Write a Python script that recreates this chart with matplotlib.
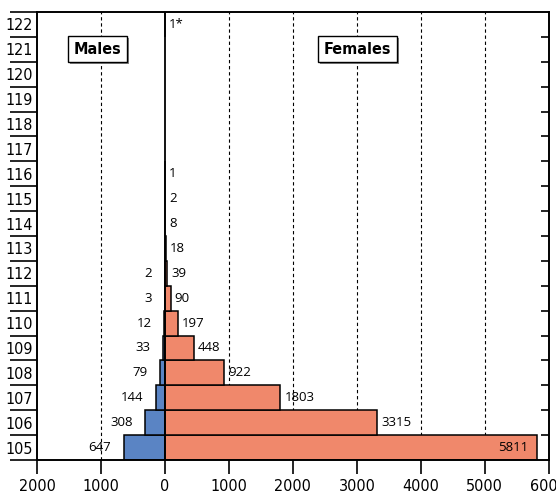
import matplotlib.pyplot as plt
import matplotlib.patheffects as pe
from matplotlib.ticker import FixedLocator, NullFormatter
import numpy as np

# data: ages 105..122
ages = list(range(105, 123))
males = [647, 308, 144, 79, 33, 12, 3, 2, 0, 0, 0, 0, 0, 0, 0, 0, 0, 0]
females = [5811, 3315, 1803, 922, 448, 197, 90, 39, 18, 8, 2, 1, 0, 0, 0, 0, 0, 1]
female_notes = {122: '1*'}
xticks = [-2000, -1000, 0, 1000, 2000, 3000, 4000, 5000, 6000]
xticklabels = ['2000', '1000', '0', '1000', '2000', '3000', '4000', '5000', '6000']

blue = '#5a84c4'
salmon = '#f0886b'
num_font = ['Open Sans', 'DejaVu Sans']

fig = plt.figure(figsize=(5.56, 4.98), dpi=100)
ax = fig.add_axes([0.0665, 0.0763, 0.9205, 0.8997])
cond = dict(family='DejaVu Sans', stretch='condensed')

# dashed grid lines
for g in [-1000, 1000, 2000, 3000, 4000, 5000]:
    ax.axvline(g, color='black', lw=0.8, ls=(0, (3, 2.5)), zorder=0)

for a, m, f in zip(ages, males, females):
    if m > 0:
        ax.barh(a, -m, height=1.0, color=blue, edgecolor='black', lw=1.1, zorder=2)
        ax.annotate(str(m), (-m, a), xytext=(-9, 0), textcoords='offset points',
                    ha='right', va='center', fontsize=9.5, family=num_font, zorder=4)
    if f > 0:
        ax.barh(a, f, height=1.0, color=salmon, edgecolor='black', lw=1.1, zorder=2)
        lab = female_notes.get(a, str(f))
        if f > 5000:
            ax.annotate(lab, (f, a), xytext=(-6, 0), textcoords='offset points',
                        ha='right', va='center', fontsize=9.5, family=num_font, zorder=4)
        else:
            ax.annotate(lab, (f, a), xytext=(3, 0), textcoords='offset points',
                        ha='left', va='center', fontsize=9.5, family=num_font, zorder=4)

ax.axvline(0, color='black', lw=1.3, zorder=3)

# Males / Females boxes with shadow
for txt, xp in [('Males', -1060), ('Females', 3010)]:
    t = ax.text(xp, 121, txt, ha='center', va='center', fontsize=11.5,
                fontweight='bold', zorder=5, **cond,
                bbox=dict(boxstyle='square,pad=0.35', fc='white', ec='black', lw=1.0))
    t.get_bbox_patch().set_path_effects([
        pe.SimplePatchShadow(offset=(1.5, -1.5), shadow_rgbFace='#777777', alpha=0.9),
        pe.Normal()])

ax.set_xlim(-2000, 6000)
ax.set_ylim(104.5, 122.5)
ax.set_xticks(xticks)
ax.set_xticklabels(xticklabels, fontsize=11.5, **cond)
ax.tick_params(axis='x', direction='out', length=10, width=1.2, pad=4)

# y: long outward ticks at row boundaries, labels at row centres
ax.yaxis.set_major_locator(FixedLocator(np.arange(104.5, 123, 1.0)))
ax.yaxis.set_major_formatter(NullFormatter())
ax.set_yticks(ages, minor=True)
ax.set_yticklabels([str(a) for a in ages], minor=True, fontsize=11.5, **cond)
ax.tick_params(axis='y', which='major', direction='out', length=19.5, width=1.2,
               left=True, right=False)
ax.tick_params(axis='y', which='minor', length=0, pad=3)

ax2 = ax.twinx()
ax2.set_ylim(ax.get_ylim())
ax2.set_yticks(np.arange(105.5, 122.5, 1.0))
ax2.set_yticklabels([])
ax2.tick_params(axis='y', direction='in', length=6, width=1.2)

for a_ in (ax, ax2):
    for s in a_.spines.values():
        s.set_linewidth(1.2)

plt.savefig('out.png', dpi=100)
